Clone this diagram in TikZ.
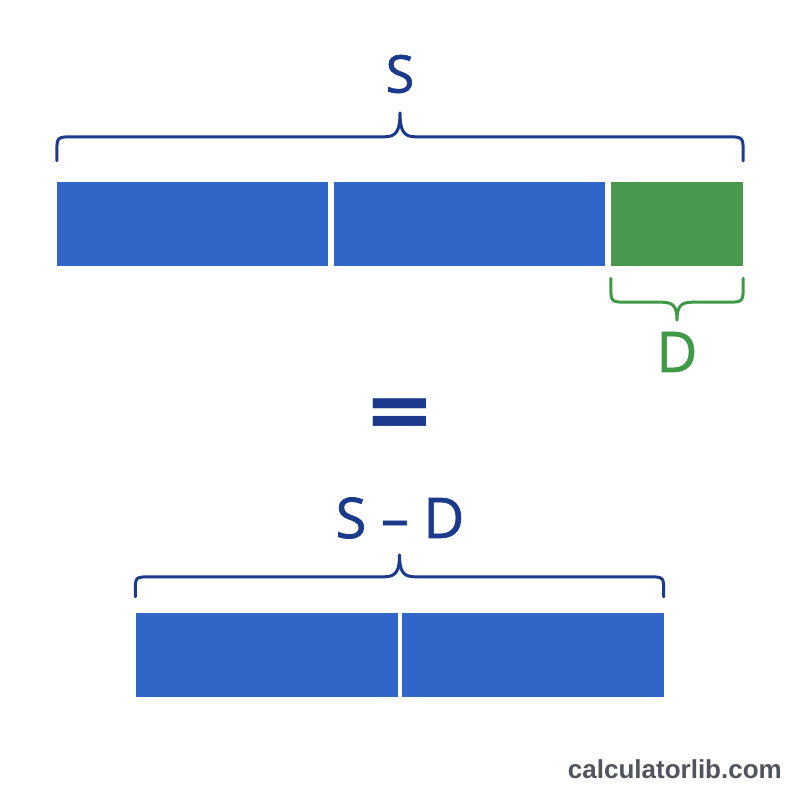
\documentclass[tikz,border=0pt]{standalone}
\usepackage{fontspec}
\setmainfont{Open Sans}
\newfontfamily\letterfont[FakeBold=1.3]{Open Sans}
\newfontfamily\markfont{Liberation Sans}
\usetikzlibrary{calc}
\definecolor{barBlue}{HTML}{3166C8}
\definecolor{barGreen}{HTML}{4A984E}
\definecolor{textNavy}{HTML}{1B3A8C}
\definecolor{textGreen}{HTML}{3F9A47}
\definecolor{markGrey}{HTML}{4F545E}
\tikzstyle{whole} = [rectangle, 
minimum width=271pt, 
minimum height=84pt,
inner sep=0pt, 
fill=barBlue]
\tikzstyle{half} = [rectangle, 
minimum width=262pt, 
minimum height=84pt,
inner sep=0pt, 
fill=barBlue]
\tikzstyle{part} = [rectangle, 
minimum width=132pt, 
minimum height=84pt,
inner sep=0pt, 
fill=barGreen]
\tikzstyle{letter} = [inner sep=0pt, text=textNavy]
\tikzstyle{brace} = [line width=3pt, line cap=round, line join=round]
\tikzset{curly/.style 2 args={to path={let \p1=(\tikztostart), \p2=(\tikztotarget), \p3=($(\p1)!0.5!(\p2)$) in
 -- (\x1,\y1+0.3*#1) .. controls (\x1,\y1+#1) .. (\x1+17pt,\y1+#1)
 -- (\x3-15pt,\y1+#1) .. controls (\x3-3pt,\y1+#1) and (\x3,\y1+#1+0.3*#2) .. (\x3,\y1+#1+#2)
 .. controls (\x3,\y1+#1+0.3*#2) and (\x3+3pt,\y1+#1) .. (\x3+15pt,\y1+#1)
 -- (\x2-17pt,\y2+#1) .. controls (\x2,\y2+#1) .. (\x2,\y2+0.3*#1) -- (\x2,\y2)}}}

\begin{document}
\begin{tikzpicture}[x=1pt, y=1pt, node distance=277pt]
\useasboundingbox (0,0) rectangle (800,800);
\node (whole1) [whole] at (192.5,576) {};
\node (whole2) [whole, right of=whole1] {};
\node (part1) [part, right of=whole2, xshift=-69.5pt] {};
\node (half1) [half] at (266.5,145) {};
\node (half2) [half, right of=half1, xshift=-11pt] {};

\node (sumS) [letter, font=\letterfont\fontsize{52}{52}\selectfont] at (400,726) {S};
\node (diffD) [letter, text=textGreen, font=\letterfont\fontsize{56}{56}\selectfont] at (677,448) {D};
\node (equals) [letter, font=\bfseries\fontsize{110}{110}\selectfont] at (400,378) {\scalebox{1}[0.85]{=}};
\node (result) [letter, font=\letterfont\fontsize{56}{56}\selectfont] at (400,282) {S – D};
\node (site) [anchor=base east, inner sep=0pt, text=markGrey, font=\markfont\bfseries\fontsize{26}{26}\selectfont] at (782,21) {calculatorlib.com};

\draw [brace, textNavy] ($(whole1.north west)+(0,21)$) to[curly={24pt}{24pt}] ($(part1.north east)+(0,21)$);
\draw [brace, textGreen] ($(part1.south west)+(0,-12)$) to[curly={-24pt}{-18pt}] ($(part1.south east)+(0,-12)$);
\draw [brace, textNavy] ($(half1.north west)+(0,16)$) to[curly={20pt}{22pt}] ($(half2.north east)+(0,16)$);
\end{tikzpicture}
\end{document}
